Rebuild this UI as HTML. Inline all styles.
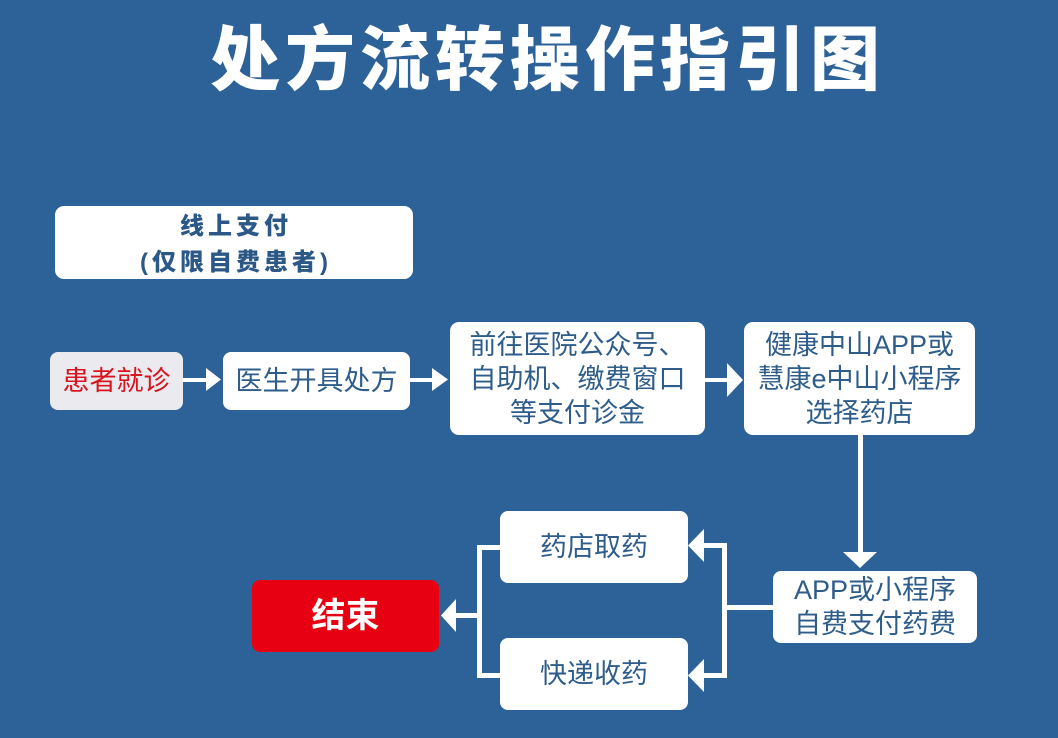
<!DOCTYPE html>
<html>
<head>
<meta charset="utf-8">
<style>
html,body{margin:0;padding:0;}
body{width:1058px;height:738px;background:#2d6298;position:relative;overflow:hidden;font-family:"Liberation Sans","Noto Sans CJK SC",sans-serif;}
.t{position:absolute;display:flex;align-items:center;justify-content:center;text-align:center;color:#2e5d8b;font-size:27px;line-height:34px;white-space:nowrap;}
</style>
</head>
<body>
<svg width="1058" height="738" style="position:absolute;left:0;top:0" xmlns="http://www.w3.org/2000/svg">
  <g fill="#ffffff">
    <rect x="55" y="206" width="358" height="73" rx="9"/>
    <rect x="50" y="352" width="133" height="58" rx="8" fill="#eaeaef"/>
    <rect x="223" y="352" width="187" height="58" rx="8"/>
    <rect x="450" y="322" width="255" height="113" rx="9"/>
    <rect x="744" y="322" width="231" height="113" rx="9"/>
    <rect x="773" y="571" width="204" height="72" rx="8"/>
    <rect x="500" y="511" width="188" height="72" rx="8"/>
    <rect x="500" y="638" width="188" height="72" rx="8"/>
    <rect x="252" y="580" width="187" height="72" rx="8" fill="#e60012"/>

    <!-- row 1 arrows -->
    <rect x="183" y="378" width="25" height="4"/>
    <polygon points="206,368 221,379.5 206,391"/>
    <rect x="410" y="378" width="24" height="4"/>
    <polygon points="432,368 448,379.5 432,391"/>
    <rect x="705" y="378" width="24" height="4"/>
    <polygon points="727,363 743,380 727,397"/>

    <!-- down arrow -->
    <rect x="858" y="435" width="5" height="119"/>
    <polygon points="843,552 877,552 860,568"/>

    <!-- right branch -->
    <rect x="722" y="605" width="51" height="5"/>
    <rect x="722" y="543" width="5" height="135"/>
    <rect x="702" y="543" width="25" height="5"/>
    <rect x="702" y="673" width="25" height="5"/>
    <polygon points="704,529 704,562 688,545.5"/>
    <polygon points="704,659 704,692 688,675.5"/>

    <!-- left branch -->
    <rect x="477" y="545" width="23" height="5"/>
    <rect x="477" y="673" width="23" height="5"/>
    <rect x="477" y="545" width="5" height="133"/>
    <rect x="454" y="613" width="28" height="5"/>
    <polygon points="456,599 456,632 441,615.5"/>
  </g>
</svg>

<div class="t" style="left:150px;top:22px;width:790px;height:76px;color:#ffffff;font-size:70px;line-height:76px;font-weight:900;letter-spacing:5px;padding-left:5px;box-sizing:border-box;">处方流转操作指引图</div>

<div class="t" style="left:55px;top:208px;width:358px;height:73px;font-size:24px;line-height:36px;font-weight:900;letter-spacing:4px;padding-left:4px;box-sizing:border-box;color:#2b5887;">线上支付<br>(仅限自费患者)</div>

<div class="t" style="left:50px;top:352px;width:133px;height:58px;color:#d9141e;">患者就诊</div>
<div class="t" style="left:223px;top:352px;width:187px;height:58px;">医生开具处方</div>
<div class="t" style="left:450px;top:322px;width:255px;height:113px;">前往医院公众号、<br>自助机、缴费窗口<br>等支付诊金</div>
<div class="t" style="left:744px;top:322px;width:231px;height:113px;">健康中山APP或<br>慧康e中山小程序<br>选择药店</div>
<div class="t" style="left:773px;top:571px;width:204px;height:72px;">APP或小程序<br>自费支付药费</div>
<div class="t" style="left:500px;top:511px;width:188px;height:72px;">药店取药</div>
<div class="t" style="left:500px;top:638px;width:188px;height:72px;">快递收药</div>
<div class="t" style="left:252px;top:580px;width:187px;height:72px;color:#ffffff;font-size:34px;font-weight:bold;">结束</div>
</body>
</html>
